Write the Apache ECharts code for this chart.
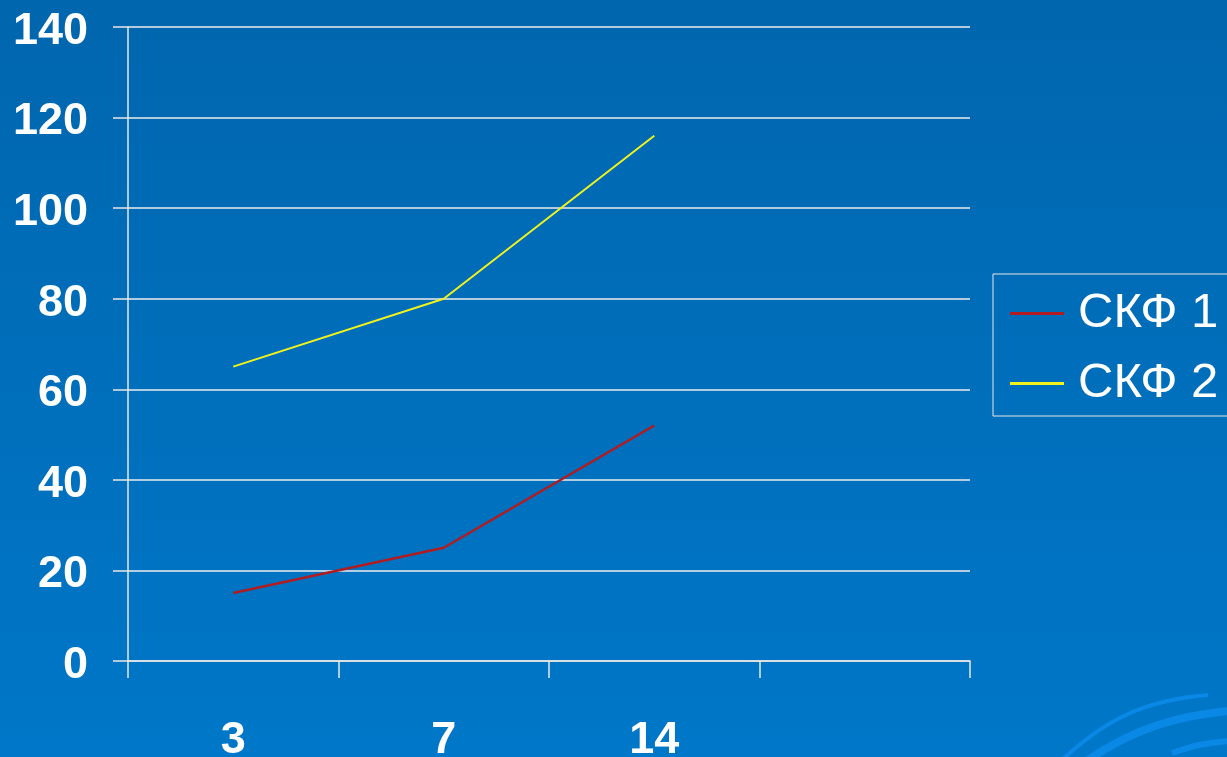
<!DOCTYPE html>
<html>
<head>
<meta charset="utf-8">
<script src="https://cdn.jsdelivr.net/npm/echarts@6/dist/echarts.min.js"></script>
<style>
  html, body { margin: 0; padding: 0; }
  #chart { width: 1227px; height: 757px; }
</style>
</head>
<body>
<div id="chart"></div>
<script>
// days (last slot is an empty category, like the original slide)
var days = ["3", "7", "14", ""];
var skf1 = [15, 25, 52, null];
var skf2 = [65, 80, 116, null];
var seriesNames = ["СКФ 1", "СКФ 2"];

var chart = echarts.init(document.getElementById("chart"));

var option = {
  backgroundColor: {
    type: "linear", x: 0, y: 0, x2: 0, y2: 1,
    colorStops: [
      { offset: 0, color: "#0066ae" },
      { offset: 1, color: "#0077c8" }
    ]
  },
  textStyle: { fontFamily: "Liberation Sans, Arial, sans-serif" },
  color: ["#b01c22", "#f2f21c"],
  animation: false,
  // decorative swooshes in the bottom right corner
  graphic: [
    {
      type: "bezierCurve", silent: true,
      shape: { x1: 1062, y1: 760, cpx1: 1110, cpy1: 715, cpx2: 1150, cpy2: 700, x2: 1208, y2: 695 },
      style: { stroke: "#0a88e6", lineWidth: 4, fill: null }
    },
    {
      type: "bezierCurve", silent: true,
      shape: { x1: 1088, y1: 760, cpx1: 1135, cpy1: 728, cpx2: 1180, cpy2: 715, x2: 1230, y2: 711 },
      style: { stroke: "#0a88e6", lineWidth: 8, fill: null }
    },
    {
      type: "bezierCurve", silent: true,
      shape: { x1: 1172, y1: 753, cpx1: 1190, cpy1: 747, cpx2: 1205, cpy2: 742, x2: 1230, y2: 741 },
      style: { stroke: "#0a88e6", lineWidth: 6, fill: null }
    }
  ],
  legend: {
    orient: "vertical",
    left: 993,
    top: 274,
    padding: [15, 30, 8, 17],
    itemGap: 21,
    itemWidth: 54,
    itemHeight: 3,
    icon: "rect",
    borderColor: "#e8e8e8",
    borderWidth: 1,
    textStyle: { color: "#ffffff", fontSize: 49, padding: [0, 0, 0, 9] },
    data: seriesNames
  },
  grid: { left: 128, right: 257, top: 27, bottom: 96, outerBoundsMode: "none", containLabel: false },
  xAxis: {
    type: "category",
    data: days,
    boundaryGap: true,
    axisLine: { lineStyle: { color: "#e8e8e8", width: 1.5 } },
    axisTick: { show: true, length: 17, alignWithLabel: false, lineStyle: { color: "#e8e8e8", width: 1.5 } },
    axisLabel: { color: "#ffffff", fontSize: 45, fontWeight: "bold", margin: 57 },
    splitLine: { show: false }
  },
  yAxis: {
    type: "value",
    min: 0,
    max: 140,
    interval: 20,
    axisLine: { show: true, lineStyle: { color: "#e8e8e8", width: 1.5 } },
    axisTick: { show: true, length: 15, lineStyle: { color: "#e8e8e8", width: 1.5 } },
    axisLabel: {
      color: "#ffffff", fontSize: 45, fontWeight: "bold", margin: 40,
      verticalAlign: "top", lineHeight: 9
    },
    splitLine: { show: true, lineStyle: { color: "#ececec", width: 1.5 } }
  },
  series: [
    {
      type: "line",
      name: seriesNames[0],
      data: skf1,
      showSymbol: false,
      symbol: "none",
      lineStyle: { width: 2.5 }
    },
    {
      type: "line",
      name: seriesNames[1],
      data: skf2,
      showSymbol: false,
      symbol: "none",
      lineStyle: { width: 2 }
    }
  ]
};

chart.setOption(option);
</script>
</body>
</html>
